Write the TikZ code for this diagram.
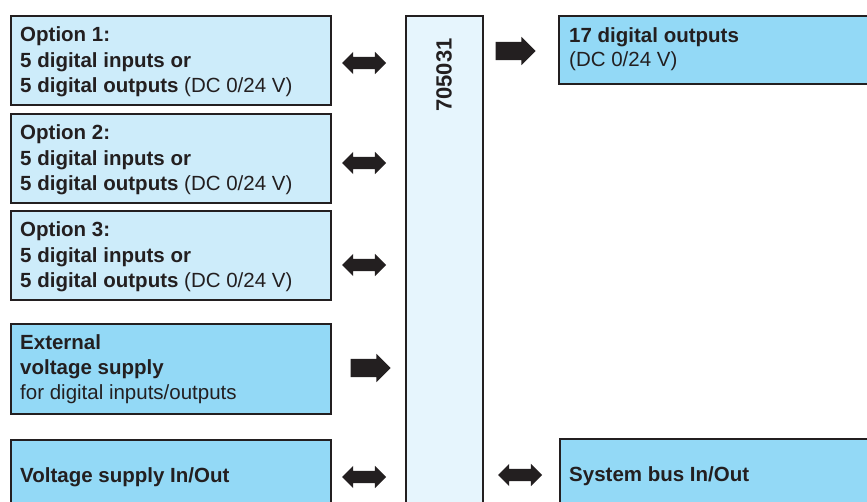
\documentclass[tikz,border=0pt]{standalone}
\usepackage{fontspec}
\setmainfont{Liberation Sans}
\usetikzlibrary{shapes.arrows}
\definecolor{ink}{HTML}{231F20}
\definecolor{lightbox}{HTML}{CDECFA}
\definecolor{darkbox}{HTML}{93D9F6}
\definecolor{palebox}{HTML}{E6F5FD}
\begin{document}
\begin{tikzpicture}[x=1pt,y=-1pt,
  box/.style={draw=ink,line width=1.8pt,rectangle,inner sep=0pt,anchor=north west},
  optbox/.style={box,fill=lightbox,minimum width=320pt,minimum height=89pt},
  txt/.style={anchor=base west,inner sep=0pt,text=ink,align=left,font=\fontsize{20.5}{25.5}\selectfont},
  darr/.style={double arrow,fill=ink,draw=none,minimum height=44pt,inner xsep=0pt,inner ysep=6pt,double arrow head extend=5pt},
  sarr/.style={single arrow,fill=ink,draw=none,minimum height=40pt,inner xsep=0pt,inner ysep=9pt,single arrow head extend=5pt}]
\useasboundingbox (0,0) rectangle (867,502);
\begin{scope}
\clip (0,0) rectangle (867,502);
% boxes
\node[optbox] (o1) at (10,15) {};
\node[optbox] (o2) at (10,113) {};
\node[optbox] (o3) at (10,210) {};
\node[box,fill=darkbox,minimum width=320pt,minimum height=90pt] (ext) at (10,323) {};
\node[box,fill=darkbox,minimum width=320pt,minimum height=80pt] (vs) at (10,439) {};
\node[box,fill=palebox,minimum width=77pt,minimum height=500pt] (mod) at (405,15) {};
\node[box,fill=darkbox,minimum width=320pt,minimum height=68pt] (do) at (558,15) {};
\node[box,fill=darkbox,minimum width=320pt,minimum height=80pt] (sb) at (559,438) {};
% texts
\node[txt] at (20,93) {\textbf{Option 1:}\\\textbf{5 digital inputs or}\\\textbf{5 digital outputs} (DC 0/24 V)};
\node[txt] at (20,191) {\textbf{Option 2:}\\\textbf{5 digital inputs or}\\\textbf{5 digital outputs} (DC 0/24 V)};
\node[txt] at (20,288) {\textbf{Option 3:}\\\textbf{5 digital inputs or}\\\textbf{5 digital outputs} (DC 0/24 V)};
\node[txt,font=\fontsize{20.5}{24.5}\selectfont] at (20,399) {\textbf{External}\\\textbf{voltage supply}\\for digital inputs/outputs};
\node[txt] at (20,482) {\textbf{Voltage supply In/Out}};
\node[txt,font=\fontsize{20.5}{24}\selectfont] at (569,67) {\textbf{17 digital outputs}\\(DC 0/24 V)};
\node[txt] at (569,481) {\textbf{System bus In/Out}};
\node[text=ink,rotate=90,inner sep=0pt,font=\fontsize{22}{24}\selectfont\bfseries] (lbl) at (444,75) {705031};
% arrows
\node[darr] (a1) at (364,63) {};
\node[darr] (a2) at (364,163) {};
\node[darr] (a3) at (364,265) {};
\node[sarr] (a4) at (366,368) {};
\node[darr] (a5) at (364,477) {};
\node[sarr] (a6) at (511,51) {};
\node[darr] (a7) at (520,475) {};
\end{scope}
\end{tikzpicture}
\end{document}
